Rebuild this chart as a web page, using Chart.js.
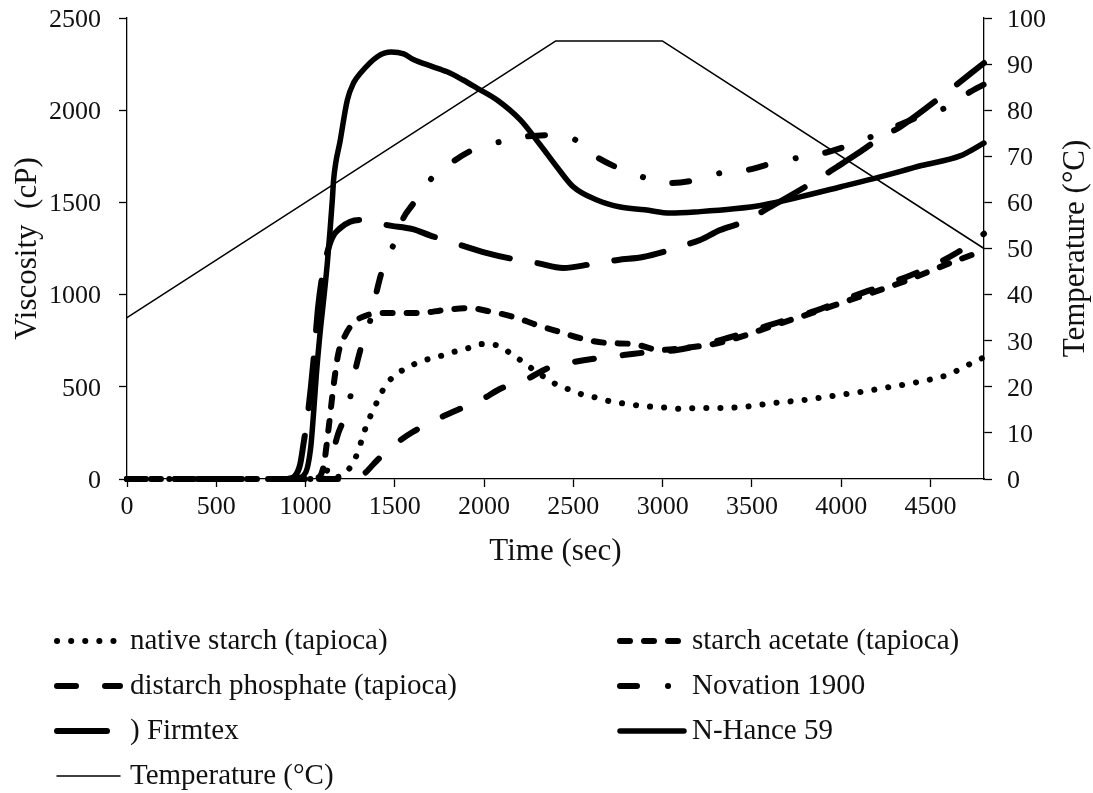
<!DOCTYPE html>
<html>
<head>
<meta charset="utf-8">
<title>Viscosity profile</title>
<script src="https://cdn.jsdelivr.net/npm/chart.js@4.4.0/dist/chart.umd.min.js"></script>
<style>
  html, body { margin: 0; padding: 0; background: #fff; }
  #chart { display: block; }
</style>
</head>
<body>
<canvas id="chart" width="1093" height="793"></canvas>
<script>
// time (sec) / viscosity (cP) readings for each starch
var nativeTime = [0, 200, 400, 600, 800, 1000, 1150, 1220, 1251, 1291, 1318, 1346, 1380, 1413, 1458, 1520, 1598, 1671, 1755, 1830, 1912, 1990, 2063, 2137, 2203, 2270, 2337, 2410, 2483, 2557, 2640, 2718, 2802, 2880, 2964, 3048, 3117, 3200, 3284, 3452, 3620, 3788, 3950, 4106, 4274, 4431, 4594, 4733, 4800];
var nativeVisc = [0, 0, 0, 0, 0, 0, 5, 30, 65, 141, 222, 304, 374, 445, 520, 575, 618, 645, 667, 689, 710, 732, 727, 689, 645, 597, 553, 510, 483, 456, 439, 418, 407, 396, 391, 385, 380, 385, 385, 391, 412, 428, 450, 472, 499, 526, 564, 629, 660];

var acetateTime = [0, 500, 1000, 1060, 1100, 1130, 1156, 1184, 1223, 1268, 1346, 1458, 1643, 1772, 1912, 2045, 2165, 2297, 2426, 2557, 2688, 2835, 2986, 3137, 3300, 3450, 3600, 3770, 4050, 4330, 4610, 4800];
var acetateVisc = [0, 0, 0, 5, 65, 282, 499, 683, 781, 846, 889, 900, 900, 916, 927, 906, 879, 835, 797, 759, 738, 732, 700, 712, 735, 775, 825, 879, 971, 1063, 1171, 1240];

var distarchTime = [0, 500, 1000, 1200, 1280, 1330, 1380, 1436, 1530, 1600, 1716, 1850, 1980, 2100, 2230, 2360, 2500, 2640, 2780, 2930, 3080, 3250, 3450, 3650, 3850, 4050, 4250, 4450, 4650, 4800];
var distarchVisc = [0, 0, 0, 0, 10, 30, 80, 135, 210, 255, 315, 374, 428, 493, 537, 602, 634, 656, 672, 689, 700, 735, 790, 850, 910, 985, 1055, 1130, 1228, 1330];

var novationTime = [0, 500, 1000, 1100, 1140, 1184, 1240, 1268, 1307, 1363, 1391, 1430, 1492, 1548, 1598, 1682, 1800, 1934, 2063, 2219, 2370, 2500, 2617, 2752, 2886, 3031, 3183, 3323, 3474, 3620, 3753, 3905, 4100, 4300, 4460, 4594, 4722, 4800];
var novationVisc = [0, 0, 0, 10, 103, 250, 390, 542, 700, 862, 987, 1133, 1269, 1415, 1486, 1605, 1703, 1784, 1822, 1855, 1865, 1845, 1755, 1686, 1638, 1605, 1621, 1659, 1676, 1714, 1741, 1768, 1830, 1910, 1974, 2017, 2099, 2140];

var firmtexTime = [900, 940, 970, 990, 1010, 1030, 1050, 1070, 1090, 1111, 1150, 1195, 1250, 1307, 1380, 1457, 1600, 1700, 1800, 2017, 2150, 2297, 2443, 2600, 2750, 2890, 3000, 3100, 3210, 3322, 3452, 3603, 3843, 3976, 4100, 4218, 4330, 4594, 4800];
var firmtexVisc = [0, 15, 80, 200, 330, 500, 700, 930, 1080, 1188, 1310, 1361, 1395, 1405, 1395, 1377, 1355, 1320, 1290, 1225, 1195, 1171, 1144, 1165, 1188, 1204, 1230, 1262, 1296, 1350, 1394, 1475, 1610, 1692, 1770, 1849, 1909, 2099, 2256];

var nhanceTime = [930, 960, 990, 1010, 1030, 1045, 1060, 1083, 1100, 1122, 1150, 1157, 1195, 1234, 1270, 1307, 1402, 1480, 1550, 1604, 1700, 1793, 1880, 1960, 2073, 2203, 2315, 2408, 2500, 2632, 2763, 2900, 3044, 3210, 3400, 3564, 3770, 4000, 4218, 4450, 4666, 4800];
var nhanceVisc = [0, 5, 20, 60, 180, 358, 560, 808, 960, 1171, 1513, 1620, 1840, 2055, 2150, 2200, 2290, 2315, 2305, 2275, 2240, 2208, 2165, 2120, 2055, 1947, 1811, 1692, 1584, 1513, 1475, 1460, 1442, 1450, 1465, 1486, 1530, 1585, 1638, 1700, 1752, 1822];

// heating / holding / cooling program (°C)
var tempTime = [0, 2400, 3000, 4800];
var tempValue = [35, 95, 95, 50];

// axis ranges and tick labels
var timeRange = [0, 4800];
var timeTicks = [0, 500, 1000, 1500, 2000, 2500, 3000, 3500, 4000, 4500];
var viscRange = [0, 2500];
var viscTicks = [0, 500, 1000, 1500, 2000, 2500];
var tempRange = [0, 100];
var tempTicks = [0, 10, 20, 30, 40, 50, 60, 70, 80, 90, 100];

var serif = '"Liberation Serif", "Times New Roman", serif';
var ink = '#111';

function points(t, v) {
  return t.map(function (x, i) { return { x: x, y: v[i] }; });
}

function series(label, t, v, width, dash, axis) {
  return {
    label: label,
    data: points(t, v),
    borderColor: '#000',
    borderWidth: width,
    borderDash: dash,
    borderCapStyle: 'round',
    borderJoinStyle: 'round',
    pointRadius: 0,
    fill: false,
    clip: false,
    cubicInterpolationMode: axis === 'y1' ? 'default' : 'monotone',
    tension: 0,
    yAxisID: axis || 'y'
  };
}

function fixedTicks(values) {
  return function (scale) {
    scale.ticks = values.map(function (v) { return { value: v }; });
  };
}

// vertical axes: fixed width, and no extra room reserved above/below the plot
function sideWidth(w) {
  return function (scale) {
    scale.width = w;
    scale.paddingTop = 0;
    scale.paddingBottom = 0;
  };
}

function plain(v) { return String(v); }

// two-column legend under the plot, plus the right-hand axis title
var legendBox = {
  rows: [641, 686, 731, 776],
  lineStart: [57, 620],
  lineEnd: [120, 684],
  textX: [130, 692],
  fontSize: 29
};
var rightTitle = { text: 'Temperature (°C)', x: 1076, fontSize: 31 };

var rowLegend = {
  id: 'rowLegend',
  afterDraw: function (chart) {
    var ctx = chart.ctx;
    chart.data.datasets.forEach(function (ds, i) {
      var col = i % 2, row = Math.floor(i / 2);
      var y = legendBox.rows[row];
      ctx.save();
      ctx.strokeStyle = ds.borderColor;
      ctx.lineWidth = ds.borderWidth;
      ctx.lineCap = ds.borderCapStyle;
      ctx.setLineDash(ds.borderDash || []);
      ctx.beginPath();
      ctx.moveTo(legendBox.lineStart[col], y);
      ctx.lineTo(legendBox.lineEnd[col], y);
      ctx.stroke();
      ctx.setLineDash([]);
      ctx.fillStyle = ink;
      ctx.font = legendBox.fontSize + 'px ' + serif;
      ctx.textBaseline = 'middle';
      ctx.fillText(ds.label, legendBox.textX[col], y);
      ctx.restore();
    });

    // right axis title reads bottom-to-top like the left one
    var area = chart.chartArea;
    ctx.save();
    ctx.translate(rightTitle.x, (area.top + area.bottom) / 2);
    ctx.rotate(-Math.PI / 2);
    ctx.fillStyle = ink;
    ctx.font = rightTitle.fontSize + 'px ' + serif;
    ctx.textAlign = 'center';
    ctx.textBaseline = 'middle';
    ctx.fillText(rightTitle.text, 0, 0);
    ctx.restore();
  }
};

function axisLine() {
  return { display: true, color: '#000', width: 1.3 };
}
function tickMarks() {
  return { display: true, drawOnChartArea: false, drawTicks: true, tickLength: 8, tickWidth: 1.3, tickColor: '#000' };
}

Chart.defaults.font.family = serif;
Chart.defaults.color = ink;

new Chart(document.getElementById('chart'), {
  type: 'line',
  data: {
    datasets: [
      series('native starch (tapioca)', nativeTime, nativeVisc, 6, [0.1, 14]),
      series('starch acetate (tapioca)', acetateTime, acetateVisc, 6, [10, 14]),
      series('distarch phosphate (tapioca)', distarchTime, distarchVisc, 6, [19, 29]),
      series('Novation 1900', novationTime, novationVisc, 6, [17, 31, 0.1, 30]),
      series(') Firmtex', firmtexTime, firmtexVisc, 6, [50, 28]),
      series('N-Hance 59', nhanceTime, nhanceVisc, 5.5, []),
      series('Temperature (°C)', tempTime, tempValue, 1.5, [], 'y1')
    ]
  },
  options: {
    responsive: false,
    animation: false,
    devicePixelRatio: 1,
    layout: { padding: { left: 0, right: 0, top: 18, bottom: 223 } },
    plugins: { legend: { display: false }, tooltip: { enabled: false } },
    scales: {
      x: {
        type: 'linear',
        min: timeRange[0],
        max: timeRange[1],
        border: axisLine(),
        grid: tickMarks(),
        afterBuildTicks: fixedTicks(timeTicks),
        ticks: { autoSkip: false, maxRotation: 0, padding: 5, font: { size: 26 }, callback: plain },
        title: { display: true, text: 'Time (sec)', font: { size: 31 }, padding: { top: 0, bottom: 0 } },
        afterFit: function (scale) { scale.height = 91; }
      },
      y: {
        position: 'left',
        min: viscRange[0],
        max: viscRange[1],
        border: axisLine(),
        grid: tickMarks(),
        afterBuildTicks: fixedTicks(viscTicks),
        ticks: { padding: 18, labelOffset: 2, font: { size: 26 }, callback: plain },
        title: { display: true, text: 'Viscosity  (cP)', font: { size: 31 }, padding: { top: 9, bottom: 0 } },
        afterFit: sideWidth(127)
      },
      y1: {
        position: 'right',
        min: tempRange[0],
        max: tempRange[1],
        border: axisLine(),
        grid: tickMarks(),
        afterBuildTicks: fixedTicks(tempTicks),
        ticks: { padding: 15, labelOffset: 2, font: { size: 26 }, callback: plain },
        title: { display: false },
        afterFit: sideWidth(109)
      }
    }
  },
  plugins: [rowLegend]
});
</script>
</body>
</html>
